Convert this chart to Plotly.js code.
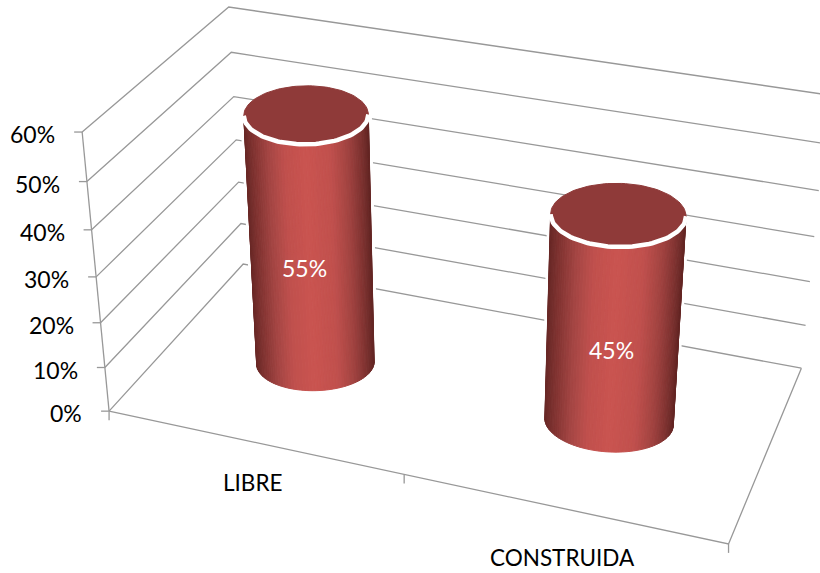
<!DOCTYPE html>
<html><head><meta charset="utf-8">
<script src="https://cdn.plot.ly/plotly-3.0.1.min.js"></script>
<style>html,body{margin:0;padding:0;background:#fff}#c{width:820px;height:573px}</style></head>
<body><div id="c"></div>
<script>
const categories=['LIBRE','CONSTRUIDA'];
const values=[0.55,0.45];
const tickVals=[0,0.1,0.2,0.3,0.4,0.5,0.6];
const tickLabels=['0%','10%','20%','30%','40%','50%','60%'];
const gridColor='#989898';
const capColor='#8f3a39';
const shadeStops=[[0,[104,40,38]],[0.08,[130,52,50]],[0.2,[165,70,68]],[0.33,[192,80,77]],[0.5,[202,84,80]],[0.7,[192,80,77]],[0.84,[160,66,64]],[0.94,[125,50,48]],[1,[100,38,36]]];
const fontFamily='Lato, Carlito, Calibri, sans-serif';

// Camera calibration: chart-space corner (category position, depth, value) -> page position
const calib=[
 [0,0,0,109,411],[0,0,0.1,105,367],[0,0,0.2,100,323],[0,0,0.3,96,277],[0,0,0.4,92,230],[0,0,0.5,87,182],[0,0,0.6,82,132],
 [0,1,0,242,264],[0,1,0.1,240,223],[0,1,0.2,240,182],[0,1,0.3,239,140],[0,1,0.4,233,97],[0,1,0.5,231,52],[0,1,0.6,228,7],
 [2,1,0,801,368],[2,1,0.1,806,326],[2,1,0.2,810,282],[2,1,0.3,814,237],[2,1,0.4,819,191],[2,1,0.5,823,143],[2,1,0.6,828,94],
 [2,0,0,729,543],[1,0,0,404,475]];
function solve(A,b){const n=b.length,M=A.map((r,i)=>r.concat(b[i]));
 for(let c=0;c<n;c++){let p=c;for(let r=c+1;r<n;r++)if(Math.abs(M[r][c])>Math.abs(M[p][c]))p=r;[M[c],M[p]]=[M[p],M[c]];
  for(let r=0;r<n;r++)if(r!==c){const f=M[r][c]/M[c][c];for(let k=c;k<=n;k++)M[r][k]-=f*M[c][k];}}
 return M.map((r,i)=>r[n]/r[i]);}
const rows=[],rhs=[];
calib.forEach(([u,d,z,px,py])=>{const zz=z*3;
 rows.push([u,d,zz,1,0,0,0,0,-px*u,-px*d,-px*zz]);rhs.push(px);
 rows.push([0,0,0,0,u,d,zz,1,-py*u,-py*d,-py*zz]);rhs.push(py);});
const AtA=Array.from({length:11},(_,i)=>Array.from({length:11},(_,j)=>rows.reduce((s,r)=>s+r[i]*r[j],0)));
const Atb=Array.from({length:11},(_,i)=>rows.reduce((s,r,k)=>s+r[i]*rhs[k],0));
const h=solve(AtA,Atb);
function P(u,d,z){const zz=z*3,w=h[8]*u+h[9]*d+h[10]*zz+1;return [(h[0]*u+h[1]*d+h[2]*zz+h[3])/w,(h[4]*u+h[5]*d+h[6]*zz+h[7])/w];}

const traces=[];
function poly(pts,opt){traces.push(Object.assign({type:'scatter',mode:'lines',x:pts.map(p=>p[0]),y:pts.map(p=>p[1]),hoverinfo:'skip',showlegend:false},opt));}
function grid(pts){poly(pts,{line:{color:gridColor,width:1.3,simplify:false}});}

tickVals.forEach(v=>{grid([P(0,0,v),P(0,1,v),P(2,1,v)]);
  const a=P(0,0,v);grid([[a[0]-8,a[1]],a]);});
grid([P(0,0,0),P(0,0,0.6)]);
grid([P(0,0,0),P(2,0,0),P(2,1,0)]);
[0,1,2].forEach(u=>{const a=P(u,0,0);grid([a,[a[0],a[1]+9]]);});

const centers=[[0.5,0.485],[1.5,0.485]];
const ru=0.205, flatten=0.47, N=120;
const shear=[[-0.02,-0.01],[0.05,0.015]];
function mix(s){let i=0;while(i<shadeStops.length-2&&s>shadeStops[i+1][0])i++;
 const [a,ca]=shadeStops[i],[b,cb]=shadeStops[i+1],t=Math.min(1,Math.max(0,(s-a)/(b-a)));
 return 'rgb('+ca.map((c,k)=>Math.round(c+(cb[k]-c)*t)).join(',')+')';}

values.forEach((v,i)=>{
 const [cu,cd]=centers[i];
 const rim=(z,sh)=>{const c=P(cu,cd,z),l=P(cu-0.5,cd,z),r=P(cu+0.5,cd,z),a=ru*Math.hypot(r[0]-l[0],r[1]-l[1]),b=a*flatten;
   return Array.from({length:N+1},(_,k)=>{const t=2*Math.PI*k/N,dx=a*Math.cos(t);return [c[0]+dx,c[1]+b*Math.sin(t)+sh*dx];});};
 const bot=rim(0,shear[i][0]),top=rim(v,shear[i][1]);
 const front=Array.from({length:N/2},(_,k)=>k);
 const xmid=k=>(bot[k][0]+top[k][0]+bot[k+1][0]+top[k+1][0])/4;
 const xs=front.map(xmid),xmin=Math.min(...xs),xmax=Math.max(...xs);
 const ordered=front.slice().sort((a,b)=>xmid(a)-xmid(b));
 poly(ordered.map(k=>bot[k]).concat(ordered.slice().reverse().map(k=>top[k])).concat([bot[ordered[0]]]),{fill:'toself',fillcolor:'#fff',line:{color:'#fff',width:7}});
 ordered.forEach(k=>{const s=(xmid(k)-xmin)/(xmax-xmin),col=mix(s);
  poly([bot[k],bot[k+1],top[k+1],top[k],bot[k]],{fill:'toself',fillcolor:col,line:{color:col,width:1}});});
 poly(top,{fill:'toself',fillcolor:capColor,line:{color:capColor,width:1}});
 poly(top.slice(0,N/2+1),{line:{color:'#fff',width:4.5}});
});

const ann=[];
function label(p,text,size,color,xanchor){ann.push({x:p[0],y:p[1],xref:'x',yref:'y',text:text,showarrow:false,xanchor:xanchor||'center',yanchor:'middle',font:{family:fontFamily,size:size,color:color}});}
tickVals.forEach((v,i)=>{const a=P(0,0,v);label([a[0]-25,a[1]+2],tickLabels[i],23,'#000','right');});
const valShift=[-7,-1], valFrac=[0.40,0.36];
values.forEach((v,i)=>{const [cu,cd]=centers[i],p=P(cu,cd,v*valFrac[i]);label([p[0]+valShift[i],p[1]],Math.round(v*100)+'%',23,'#fff');});
categories.forEach((c,i)=>{const a=P(centers[i][0],0,0);label([a[0],a[1]+[40,49][i]],c,22.5,'#000');});

Plotly.newPlot('c',traces,{width:820,height:573,margin:{l:0,r:0,t:0,b:0},paper_bgcolor:'#fff',plot_bgcolor:'#fff',showlegend:false,annotations:ann,
 xaxis:{range:[0,820],visible:false,fixedrange:true},yaxis:{range:[573,0],visible:false,fixedrange:true}},{staticPlot:true});
</script></body></html>
